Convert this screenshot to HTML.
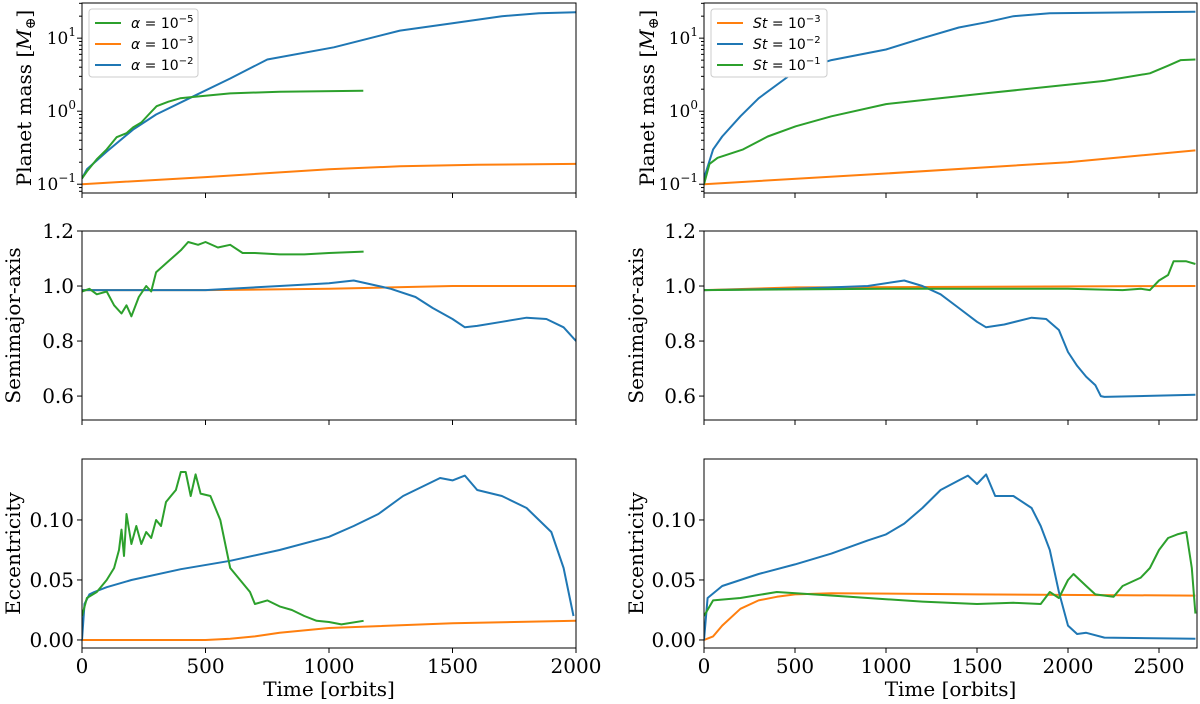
<!DOCTYPE html>
<html><head><meta charset="utf-8"><style>
body{margin:0;background:#fff;}
svg{display:block;font-family:"DejaVu Serif","Liberation Serif",serif;}
.leg{font-family:"DejaVu Sans","Liberation Sans",sans-serif;}
</style></head><body>
<svg id="fig" width="1200" height="704" viewBox="0 0 1200 704" xmlns="http://www.w3.org/2000/svg"></svg>
<script>
// ---- data (time, value) pairs ----
const massAlphaGreen=[[0,0.12],[20,0.15],[60,0.22],[100,0.3],[140,0.44],[180,0.5],[207,0.6],[240,0.7],[270,0.9],[302,1.17],[350,1.35],[397,1.5],[478,1.6],[600,1.75],[800,1.85],[1139,1.9]];
const massAlphaOrange=[[0,0.1],[500,0.125],[1000,0.16],[1287,0.176],[1600,0.185],[2000,0.19]];
const massAlphaBlue=[[0,0.12],[20,0.16],[100,0.28],[207,0.56],[300,0.9],[451,1.6],[600,2.8],[750,5.1],[1020,7.5],[1287,12.7],[1500,16],[1700,20],[1850,22],[2000,22.7]];
const massStOrange=[[0,0.1],[1000,0.14],[2000,0.2],[2700,0.29]];
const massStBlue=[[0,0.12],[50,0.3],[100,0.45],[200,0.85],[300,1.5],[500,3.5],[700,5],[1000,7],[1200,10],[1400,14],[1550,16.5],[1700,20],[1900,22],[2700,23]];
const massStGreen=[[0,0.1],[30,0.19],[75,0.23],[215,0.3],[350,0.45],[504,0.62],[700,0.85],[1000,1.25],[1550,1.76],[2070,2.4],[2200,2.6],[2450,3.3],[2550,4.2],[2620,5],[2700,5.1]];
const aAlphaOrange=[[0,0.985],[500,0.985],[1000,0.99],[1250,0.995],[1500,1.0],[2000,1.0]];
const aAlphaGreen=[[0,0.98],[30,0.99],[60,0.97],[100,0.98],[130,0.93],[160,0.9],[180,0.93],[200,0.89],[230,0.96],[260,1.0],[280,0.98],[300,1.05],[350,1.09],[400,1.13],[430,1.16],[470,1.15],[500,1.16],[550,1.14],[600,1.15],[650,1.12],[700,1.12],[800,1.115],[900,1.115],[1000,1.12],[1140,1.125]];
const aAlphaBlue=[[0,0.985],[500,0.985],[800,1.0],[1000,1.01],[1100,1.02],[1200,1.0],[1250,0.99],[1350,0.96],[1420,0.92],[1500,0.88],[1550,0.85],[1600,0.855],[1700,0.87],[1800,0.885],[1880,0.88],[1950,0.85],[2000,0.8]];
const aStOrange=[[0,0.985],[500,0.995],[2700,1.0]];
const aStBlue=[[0,0.985],[500,0.99],[900,1.0],[1100,1.02],[1200,1.0],[1300,0.97],[1400,0.92],[1500,0.87],[1550,0.85],[1650,0.86],[1800,0.885],[1880,0.88],[1950,0.84],[2000,0.76],[2050,0.71],[2100,0.67],[2150,0.64],[2180,0.6],[2200,0.597],[2700,0.605]];
const aStGreen=[[0,0.985],[1000,0.99],[2000,0.99],[2300,0.985],[2400,0.99],[2450,0.985],[2500,1.02],[2550,1.04],[2580,1.09],[2650,1.09],[2700,1.08]];
const eAlphaOrange=[[0,0],[500,0],[600,0.001],[700,0.003],[800,0.006],[1000,0.01],[1500,0.014],[2000,0.016]];
const eAlphaBlue=[[0,0],[10,0.03],[30,0.038],[50,0.04],[100,0.044],[200,0.05],[400,0.059],[600,0.066],[800,0.075],[1000,0.086],[1100,0.095],[1200,0.105],[1300,0.12],[1400,0.13],[1450,0.135],[1500,0.133],[1550,0.137],[1600,0.125],[1700,0.12],[1800,0.11],[1900,0.09],[1950,0.06],[1990,0.02]];
const eAlphaGreen=[[0,0.02],[20,0.035],[60,0.04],[100,0.05],[130,0.06],[150,0.075],[160,0.092],[170,0.07],[180,0.105],[200,0.08],[220,0.095],[240,0.08],[260,0.09],[280,0.085],[300,0.1],[320,0.095],[340,0.115],[360,0.12],[380,0.125],[400,0.14],[420,0.14],[440,0.12],[460,0.138],[480,0.122],[520,0.12],[560,0.1],[600,0.06],[640,0.05],[680,0.04],[700,0.03],[750,0.033],[800,0.028],[850,0.025],[900,0.02],[950,0.016],[1000,0.015],[1050,0.013],[1140,0.016]];
const eStOrange=[[0,0],[50,0.003],[100,0.012],[200,0.026],[300,0.033],[400,0.036],[500,0.038],[700,0.039],[1500,0.038],[2700,0.037]];
const eStBlue=[[0,0],[20,0.035],[100,0.045],[300,0.055],[500,0.063],[700,0.072],[900,0.083],[1000,0.088],[1100,0.097],[1200,0.11],[1300,0.125],[1400,0.133],[1450,0.137],[1500,0.13],[1550,0.138],[1600,0.12],[1700,0.12],[1800,0.11],[1850,0.095],[1900,0.075],[1950,0.04],[2000,0.012],[2050,0.005],[2100,0.006],[2200,0.002],[2700,0.001]];
const eStGreen=[[0,0.02],[50,0.033],[200,0.035],[400,0.04],[600,0.038],[800,0.036],[1000,0.034],[1200,0.032],[1500,0.03],[1700,0.031],[1850,0.03],[1900,0.04],[1950,0.035],[2000,0.05],[2030,0.055],[2100,0.045],[2150,0.038],[2250,0.036],[2300,0.045],[2400,0.052],[2450,0.06],[2500,0.075],[2550,0.085],[2600,0.088],[2650,0.09],[2680,0.06],[2700,0.022]];
const xTicksLeft=[0,500,1000,1500,2000];
const xTicksRight=[0,500,1000,1500,2000,2500];
const aTicks=[0.6,0.8,1.0,1.2];
const eTicks=[0,0.05,0.1];
const eTickLabels=["0.00","0.05","0.10"];
const legendAlpha=["\u03B1 = 10","\u03B1 = 10","\u03B1 = 10"];
const legendAlphaExp=["\u22125","\u22123","\u22122"];
const legendSt=["St = 10","St = 10","St = 10"];
const legendStExp=["\u22123","\u22122","\u22121"];

const C={b:"#1f77b4",o:"#ff7f0e",g:"#2ca02c"};
const NS="http://www.w3.org/2000/svg";
const svg=document.getElementById('fig');
function mk(tag,attrs,parent){const e=document.createElementNS(NS,tag);for(const k in attrs)e.setAttribute(k,attrs[k]);(parent||svg).appendChild(e);return e;}

const cols=[{x0:82,x1:576,tmax:2000,ticks:xTicksLeft},{x0:704,x1:1197,tmax:2700*(493/491.4),ticks:xTicksRight}];
const rows=[{y0:3,y1:193,type:'log',lo:Math.log10(0.0758),hi:Math.log10(30.3)},
            {y0:231,y1:420,type:'lin',lo:0.513,hi:1.2},
            {y0:459,y1:648,type:'lin',lo:-0.0067,hi:0.1508}];

function panel(ci,ri,series,name){
  const c=cols[ci],r=rows[ri];
  const g=mk('g',{});
  
  
  const X=t=>c.x0+(t/c.tmax)*(c.x1-c.x0);
  const Y=v=>{const u=r.type==='log'?Math.log10(v):v;return r.y1-(u-r.lo)/(r.hi-r.lo)*(r.y1-r.y0);};
  const cp=mk('clipPath',{id:'cp'+ci+ri},g);
  mk('rect',{x:c.x0,y:r.y0,width:c.x1-c.x0,height:r.y1-r.y0},cp);
  series.forEach(s=>{
    const p=mk('polyline',{points:s.d.map(q=>X(q[0]).toFixed(1)+','+Y(q[1]).toFixed(1)).join(' '),fill:'none',stroke:s.c,'stroke-width':2,'stroke-linejoin':'round','clip-path':'url(#cp'+ci+ri+')'},g);
    
    
  });
  const fr=mk('rect',{x:c.x0,y:r.y0,width:c.x1-c.x0,height:r.y1-r.y0,fill:'none',stroke:'#000','stroke-width':1},g);
  
  
  c.ticks.forEach(t=>{
    mk('line',{x1:X(t),x2:X(t),y1:r.y1,y2:r.y1+5,stroke:'#000'},g);
    if(ri===2){const tx=mk('text',{x:X(t),y:r.y1+25,'font-size':20,'text-anchor':'middle'},g);tx.textContent=t;
      }
  });
  if(r.type==='log'){
    for(let d=-2;d<=1;d++)for(let m=1;m<10;m++){const v=m*Math.pow(10,d);const lv=Math.log10(v);if(lv<r.lo||lv>r.hi)continue;
      mk('line',{x1:c.x0,x2:c.x0-(m===1?5:3),y1:Y(v),y2:Y(v),stroke:'#000'},g);
      if(m===1){const tx=mk('text',{x:c.x0-6,y:Y(v)+6,'font-size':17,'text-anchor':'end'},g);
        
        tx.appendChild(document.createTextNode('10'));const ts=mk('tspan',{dy:-8,'font-size':12},tx);ts.textContent=(d<0?'\u2212':'')+Math.abs(d);}
    }
  } else {
    const tk=ri===1?aTicks:eTicks;
    tk.forEach((v,i)=>{mk('line',{x1:c.x0,x2:c.x0-5,y1:Y(v),y2:Y(v),stroke:'#000'},g);
      const tx=mk('text',{x:c.x0-8,y:Y(v)+7,'font-size':20,'text-anchor':'end'},g);
      tx.textContent=ri===1?v.toFixed(1):eTickLabels[i];
      });
  }
  const labels=['Planet mass [M\u2295]','Semimajor-axis','Eccentricity'];
  const lx=ci===0?(ri===0?31:20):(ri===0?654:643), ly=(r.y0+r.y1)/2;
  const yl=mk('text',{x:lx,y:ly,'font-size':20,'text-anchor':'middle',transform:`rotate(-90 ${lx} ${ly})`},g);
  
  if(ri===0){yl.appendChild(document.createTextNode('Planet mass ['));const t1=mk('tspan',{'font-style':'italic'},yl);t1.textContent='M';const t2=mk('tspan',{dy:4,'font-size':14},yl);t2.textContent='\u2295';const t3=mk('tspan',{dy:-4},yl);t3.textContent=']';}
  else yl.textContent=labels[ri];
  if(ri===2){const xl=mk('text',{x:(c.x0+c.x1)/2,y:696,'font-size':20,'text-anchor':'middle'},g);xl.textContent='Time [orbits]';
    }
  return {X,Y};
}
panel(0,0,[{d:massAlphaOrange,c:C.o,n:'mass-alpha-1e-3'},{d:massAlphaBlue,c:C.b,n:'mass-alpha-1e-2'},{d:massAlphaGreen,c:C.g,n:'mass-alpha-1e-5'}],'mass-alpha-panel');
panel(0,1,[{d:aAlphaOrange,c:C.o,n:'a-alpha-1e-3'},{d:aAlphaBlue,c:C.b,n:'a-alpha-1e-2'},{d:aAlphaGreen,c:C.g,n:'a-alpha-1e-5'}],'semimajor-alpha-panel');
panel(0,2,[{d:eAlphaOrange,c:C.o,n:'e-alpha-1e-3'},{d:eAlphaBlue,c:C.b,n:'e-alpha-1e-2'},{d:eAlphaGreen,c:C.g,n:'e-alpha-1e-5'}],'ecc-alpha-panel');
panel(1,0,[{d:massStOrange,c:C.o,n:'mass-st-1e-3'},{d:massStBlue,c:C.b,n:'mass-st-1e-2'},{d:massStGreen,c:C.g,n:'mass-st-1e-1'}],'mass-st-panel');
panel(1,1,[{d:aStOrange,c:C.o,n:'a-st-1e-3'},{d:aStBlue,c:C.b,n:'a-st-1e-2'},{d:aStGreen,c:C.g,n:'a-st-1e-1'}],'semimajor-st-panel');
panel(1,2,[{d:eStOrange,c:C.o,n:'e-st-1e-3'},{d:eStBlue,c:C.b,n:'e-st-1e-2'},{d:eStGreen,c:C.g,n:'e-st-1e-1'}],'ecc-st-panel');

function legend(x,y,w,labels,exps,colors,name){
  const g=mk('g',{class:'leg'});
  
  
  mk('rect',{x:x,y:y,width:w,height:68,rx:3,fill:'#fff',stroke:'#ccc'},g);
  labels.forEach((l,i)=>{const yy=y+14+i*21;
    mk('line',{x1:x+6,x2:x+32,y1:yy,y2:yy,stroke:colors[i],'stroke-width':2},g);
    const t=mk('text',{x:x+42,y:yy+5,'font-size':14},g);
    
    const parts=l.split(' = ');const it=mk('tspan',{'font-style':'italic'},t);it.textContent=parts[0];
    t.appendChild(document.createTextNode(' = '+parts[1]));
    const sp=mk('tspan',{dy:-6,'font-size':10},t);sp.textContent=exps[i];});
}
legend(89,9,109,legendAlpha,legendAlphaExp,[C.g,C.o,C.b],'legend-alpha');
legend(711,9,116,legendSt,legendStExp,[C.o,C.b,C.g],'legend-st');
</script>
</body></html>
